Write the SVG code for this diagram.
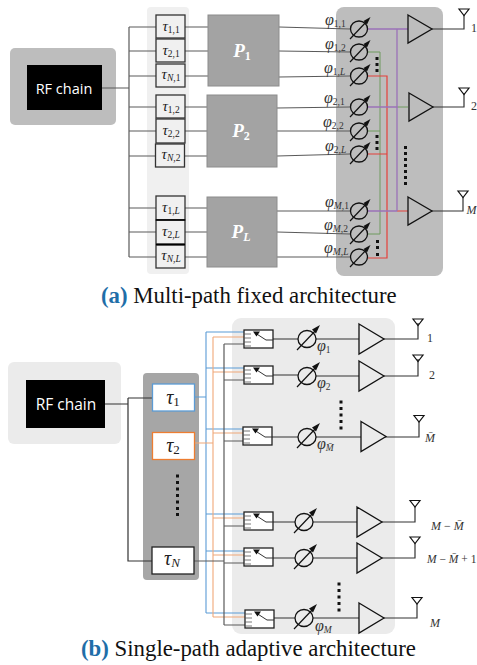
<svg xmlns="http://www.w3.org/2000/svg" width="477" height="665" viewBox="0 0 477 665">
<style>
text{font-family:"Liberation Serif",serif}
.rf{font-family:"Open Sans","Noto Sans",sans-serif;font-size:14.500px;fill:#fff;text-anchor:middle}
.rf2{font-size:15.500px}
.w{fill:none;stroke:#5a5a5a;stroke-width:1.2}
.k{fill:none;stroke:#333;stroke-width:1.2}
.pu{fill:none;stroke:#9b72b8;stroke-width:1.3}
.gr{fill:none;stroke:#6f9a5e;stroke-width:1}
.re{fill:none;stroke:#e4403a;stroke-width:1.2}
.bl{fill:none;stroke:#5b9bd5;stroke-width:1.1}
.or{fill:none;stroke:#f0a878;stroke-width:1.1}
.tb{fill:#f0f0f0;stroke:#333;stroke-width:1.3}
.p{fill:#a3a3a3;stroke:#8c8c8c;stroke-width:1}
.pl{font-size:19px;font-weight:bold;font-style:italic;fill:#fff;text-anchor:middle}
.ps{font-size:12px;font-style:normal}
.t{font-size:15px;font-style:italic;fill:#222;text-anchor:middle}
.t2{font-size:20px}
.f{font-size:16px;font-style:italic;fill:#333}
.s{font-size:9.500px;font-style:normal}
.s2{font-size:13px;font-style:normal}
.n{font-size:12px;fill:#333}
.n2{font-size:11.500px}
.i{font-style:italic}
.cap{font-size:22.800px;fill:#111}
.capb{font-weight:bold;fill:#1f6ea8}
.amp{fill:none;stroke:#111;stroke-width:1.3;stroke-linejoin:miter}
.d{fill:#111}
</style>
<defs>
<g id="ps"><ellipse cx="0" cy="0" rx="8.5" ry="8" fill="none" stroke="#111" stroke-width="1.3"/><path d="M-9 10L9-9" stroke="#111" stroke-width="1.2"/><path d="M11.500-12L8-4.500L4.500-8Z" fill="#111"/></g>
<g id="pb"><ellipse cx="0" cy="0" rx="9" ry="8.500" fill="none" stroke="#111" stroke-width="1.3"/><path d="M-10 11L10-10" stroke="#111" stroke-width="1.2"/><path d="M13-14L9-5.500L5-9.500Z" fill="#111"/></g>
<path id="amp1" class="amp" d="M0-14L24 0L0 14Z"/>
<path id="amp2" class="amp" d="M0-15L25 0L0 15Z"/>
<path id="ant" d="M-5 0H5L0 6.500Z" fill="none" stroke="#111" stroke-width="1.2"/>
<g id="sw"><rect x="0" y="0" width="29" height="18" fill="#fff" stroke="#222" stroke-width="1.3"/><path d="M0 4H7M0 8H7M0 12H7M0 16H7" stroke="#555" stroke-width=".8"/><path d="M12 3.500L22 10H29" fill="none" stroke="#333" stroke-width="1"/><path d="M9 1.500H16L12.500 6.500Z" fill="#111"/></g>
</defs>

<rect x="10" y="48" width="106" height="77" rx="5" fill="#bdbdbd"/>
<rect x="147" y="7" width="42" height="267" rx="4" fill="#f0f0f0"/>
<rect x="336" y="7" width="107" height="269" rx="8" fill="#bdbdbd"/>
<rect x="8" y="362" width="113" height="82" rx="6" fill="#ebebeb"/>
<rect x="143" y="373" width="56" height="207" rx="4" fill="#a6a6a6"/>
<rect x="232" y="318" width="163" height="316" rx="9" fill="#ebebeb"/>

<g id="connectors">
<path class="w" d="M102 88H129M129 27V257M129 27H156M129 51H156M129 76H156M129 107H156M129 131H156M129 156H156M129 208H156M129 232H156M129 257H156"/>
<path class="w" d="M185 27H208M185 51H208M185 76H208M185 107H207M185 131H207M185 156H207M185 208H207M185 232H207M185 257H207"/>
<path class="w" d="M279 27L350 29M279 51L350 52M279 77L350 76M277 108L350 107M277 131L350 131M277 156L350 154M277 211L350 211M277 232L350 234M277 257L350 257"/>
<path class="gr" d="M368 52H380V234H368M368 131H380M397 107H408"/>
<path class="re" d="M368 76H387V258H368M368 154H387M397 211H408"/>
<path class="pu" d="M368 29H408M397 29V211M368 107H397M368 211H397"/>
<path class="k" d="M432 29H464V15M432 107H464V93M431 211H463V197"/>

<path class="k" d="M105 404H128M128 398H152M128 398V561H152"/>
<path class="bl" d="M194 397H206M206 332V613M206 332H244M206 368H244M206 429H243M206 514H244M206 551H244M206 613H245"/>
<path class="or" d="M194 443H213M213 337V617M213 337H244M213 372H244M213 433H243M213 518H244M213 555H244M213 617H245"/>
<path class="w" d="M194 561H224M224 344V625M224 344H244M224 380H244M224 441H243M224 526H244M224 563H244M224 625H245"/>
<path class="k" d="M273 339H298M316 339H359M273 375H298M316 376H359M271 437H298M316 437H361M273 522H295M313 522H357M273 558H295M313 558H357M273 618H295M313 618H359"/>
<path class="k" d="M383 339H418V323M384 376H418V359M385 437H419V421M382 522H415V506M382 558H415V543M383 618H417V604"/>
</g>

<g id="rf-a"><rect x="27" y="65" width="75" height="45" fill="#000"/><text class="rf" x="64" y="94">RF chain</text></g>
<g id="t11"><rect class="tb" x="156" y="15" width="29" height="23"/><text class="t" x="171" y="31">τ<tspan class="s" dy="2">1,1</tspan></text></g>
<g id="t21"><rect class="tb" x="156" y="39" width="29" height="23"/><text class="t" x="171" y="55">τ<tspan class="s" dy="2">2,1</tspan></text></g>
<g id="tn1"><rect class="tb" x="156" y="64" width="29" height="23"/><text class="t" x="171" y="79">τ<tspan class="s" dy="2"><tspan class="i">N</tspan>,1</tspan></text></g>
<g id="t12"><rect class="tb" x="156" y="95" width="29" height="23"/><text class="t" x="171" y="111">τ<tspan class="s" dy="2">1,2</tspan></text></g>
<g id="t22"><rect class="tb" x="156" y="119" width="29" height="24"/><text class="t" x="171" y="135">τ<tspan class="s" dy="2">2,2</tspan></text></g>
<g id="tn2"><rect class="tb" x="155.500" y="144" width="29" height="23"/><text class="t" x="171" y="159">τ<tspan class="s" dy="2"><tspan class="i">N</tspan>,2</tspan></text></g>
<g id="t1l"><rect class="tb" x="156" y="196" width="29" height="24"/><text class="t" x="171" y="212">τ<tspan class="s" dy="2">1,<tspan class="i">L</tspan></tspan></text></g>
<g id="t2l"><rect class="tb" x="156" y="220" width="29" height="24"/><text class="t" x="171" y="236">τ<tspan class="s" dy="2">2,<tspan class="i">L</tspan></tspan></text></g>
<g id="tnl"><rect class="tb" x="156" y="245" width="29" height="23"/><text class="t" x="171" y="260">τ<tspan class="s" dy="2"><tspan class="i">N</tspan>,<tspan class="i">L</tspan></tspan></text></g>
<path d="M156 220H185M156 244.500H185" stroke="#000" stroke-width="1.500"/>

<g id="p1"><rect class="p" x="208" y="15" width="71" height="71"/><text class="pl" x="242" y="57">P<tspan class="ps" dy="3">1</tspan></text></g>
<g id="p2"><rect class="p" x="207" y="95" width="70" height="72"/><text class="pl" x="241" y="137">P<tspan class="ps" dy="3">2</tspan></text></g>
<g id="pL"><rect class="p" x="207" y="197" width="70" height="70"/><text class="pl" x="241" y="238">P<tspan class="ps i" dy="3">L</tspan></text></g>

<g id="phase-a">
<use href="#ps" x="359" y="29"/><use href="#ps" x="359" y="52"/><use href="#ps" x="359" y="76"/>
<use href="#ps" x="359" y="107"/><use href="#ps" x="359" y="131"/><use href="#ps" x="359" y="154"/>
<use href="#ps" x="359" y="211"/><use href="#ps" x="359" y="234"/><use href="#ps" x="359" y="257"/>
<text class="f" x="325" y="25">φ<tspan class="s" dy="2">1,1</tspan></text>
<text class="f" x="325" y="49">φ<tspan class="s" dy="2">1,2</tspan></text>
<text class="f" x="324" y="73">φ<tspan class="s" dy="2">1,<tspan class="i">L</tspan></tspan></text>
<text class="f" x="324" y="103">φ<tspan class="s" dy="2">2,1</tspan></text>
<text class="f" x="323" y="127">φ<tspan class="s" dy="2">2,2</tspan></text>
<text class="f" x="325" y="151">φ<tspan class="s" dy="2">2,<tspan class="i">L</tspan></tspan></text>
<text class="f" x="325" y="207">φ<tspan class="s" dy="2"><tspan class="i">M</tspan>,1</tspan></text>
<text class="f" x="324" y="230">φ<tspan class="s" dy="2"><tspan class="i">M</tspan>,2</tspan></text>
<text class="f" x="324" y="253">φ<tspan class="s" dy="2"><tspan class="i">M</tspan>,<tspan class="i">L</tspan></tspan></text>
</g>
<g id="amps-a">
<use href="#amp1" x="408" y="29"/><use href="#amp1" x="409" y="107"/><use href="#amp1" x="408" y="211"/>
<use href="#ant" x="464" y="9"/><use href="#ant" x="464" y="88"/><use href="#ant" x="463" y="191"/>
<text class="n" x="471" y="32">1</text><text class="n" x="471" y="110">2</text><text class="n i" x="466.500" y="214">M</text>
</g>
<g id="dots-a" class="d">
<rect x="375.500" y="57" width="3" height="3"/><rect x="375.500" y="63" width="3" height="3"/><rect x="375.500" y="69" width="3" height="3"/>
<rect x="375.500" y="135" width="3" height="3"/><rect x="375.500" y="141" width="3" height="3"/><rect x="375.500" y="147" width="3" height="3"/>
<rect x="376" y="240" width="3" height="3"/><rect x="376" y="246" width="3" height="3"/><rect x="376" y="253" width="3" height="3"/>
<rect x="404" y="146" width="3" height="3"/><rect x="404" y="152" width="3" height="3"/><rect x="404" y="158" width="3" height="3"/><rect x="404" y="164" width="3" height="3"/><rect x="404" y="170" width="3" height="3"/><rect x="404" y="176" width="3" height="3"/><rect x="404" y="182" width="3" height="3"/>
</g>
<text id="cap-a" class="cap" x="101" y="303"><tspan class="capb">(a)</tspan> Multi-path fixed architecture</text>

<g id="rf-b"><rect x="26" y="380" width="79" height="48" fill="#000"/><text class="rf rf2" x="66" y="410">RF chain</text></g>
<g id="tau1"><rect x="152.500" y="384" width="42" height="27" fill="#fff" stroke="#5b9bd5" stroke-width="1.300"/><text class="t t2" x="173" y="404">τ<tspan class="s2" dy="2">1</tspan></text></g>
<g id="tau2"><rect x="152.500" y="432.500" width="42" height="27" fill="#fff" stroke="#ed7d31" stroke-width="1.300"/><text class="t t2" x="173" y="452">τ<tspan class="s2" dy="2">2</tspan></text></g>
<g id="taun"><rect x="152" y="547" width="42" height="27" fill="#fff" stroke="#222" stroke-width="1.300"/><text class="t t2" x="172" y="565">τ<tspan class="s2 i" dy="2">N</tspan></text></g>
<g id="dots-tau" class="d"><rect x="176" y="474.500" width="3" height="3"/><rect x="176" y="481" width="3" height="3"/><rect x="176" y="487.500" width="3" height="3"/><rect x="176" y="494" width="3" height="3"/><rect x="176" y="500.500" width="3" height="3"/><rect x="176" y="507" width="3" height="3"/><rect x="176" y="513" width="3" height="3"/></g>

<g id="switches"><use href="#sw" x="244" y="330"/><use href="#sw" x="244" y="366"/><use href="#sw" x="243" y="427"/><use href="#sw" x="244" y="512"/><use href="#sw" x="244" y="548"/><use href="#sw" x="245" y="610"/></g>
<g id="phase-b"><use href="#pb" x="307" y="339"/><use href="#pb" x="307" y="376"/><use href="#pb" x="307" y="437"/><use href="#pb" x="304" y="522"/><use href="#pb" x="304" y="558"/><use href="#pb" x="304" y="618"/>
<text class="f" x="317" y="351">φ<tspan class="s" dy="2">1</tspan></text>
<text class="f" x="317" y="388">φ<tspan class="s" dy="2">2</tspan></text>
<text class="f" x="317" y="449">φ<tspan class="s i" dy="2">M̄</tspan></text>
<text class="f" x="315" y="631">φ<tspan class="s i" dy="2">M</tspan></text>
</g>
<g id="amps-b"><use href="#amp2" x="359" y="339"/><use href="#amp2" x="359" y="376"/><use href="#amp2" x="361" y="436.500"/><use href="#amp2" x="357" y="522"/><use href="#amp2" x="357" y="558"/><use href="#amp2" x="359" y="618"/>
<use href="#ant" x="418" y="319"/><use href="#ant" x="418" y="355"/><use href="#ant" x="419" y="415.500"/><use href="#ant" x="415" y="500.500"/><use href="#ant" x="415" y="537"/><use href="#ant" x="417" y="597.500"/>
<text class="n" x="427" y="342">1</text><text class="n" x="429" y="379">2</text>
<text class="n i" x="425" y="442">M̄</text>
<text class="n" x="431" y="530"><tspan class="i">M</tspan> − <tspan class="i">M̄</tspan></text>
<text class="n n2" x="427" y="563"><tspan class="i">M</tspan> − <tspan class="i">M̄</tspan> + 1</text>
<text class="n i" x="430" y="627">M</text>
</g>
<g id="dots-b" class="d">
<rect x="339.500" y="400.500" width="3" height="3"/><rect x="339.500" y="407" width="3" height="3"/><rect x="339.500" y="413.500" width="3" height="3"/><rect x="339.500" y="420" width="3" height="3"/><rect x="339.500" y="426.500" width="3" height="3"/>
<rect x="337.500" y="582.500" width="3" height="3"/><rect x="337.500" y="589" width="3" height="3"/><rect x="337.500" y="595.500" width="3" height="3"/><rect x="337.500" y="602" width="3" height="3"/><rect x="337.500" y="608.500" width="3" height="3"/>
</g>
<text id="cap-b" class="cap" x="81" y="656"><tspan class="capb">(b)</tspan> Single-path adaptive architecture</text>
</svg>
